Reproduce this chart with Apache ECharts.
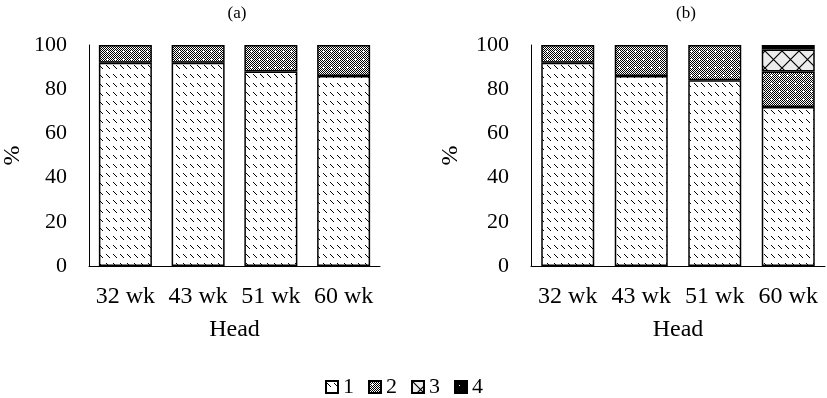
<!DOCTYPE html>
<html lang="en">
<head>
<meta charset="UTF-8">
<title>Head stacked bars</title>
<script src="https://cdn.jsdelivr.net/npm/echarts@6/dist/echarts.min.js"></script>
<style>
body{margin:0;padding:0;background:#fff;}
#main{width:827px;height:398px;}
</style>
</head>
<body>
<div id="main"></div>
<script type="text/javascript">
var categories = ['32 wk', '43 wk', '51 wk', '60 wk'];
var yTicks = [0, 20, 40, 60, 80, 100];
// panel (a)
var a1 = [92, 92, 88, 86];
var a2 = [8, 8, 12, 14];
// panel (b)
var b1 = [92, 86, 84, 72];
var b2 = [8, 14, 16, 16];
var b3 = [null, null, null, 10];
var b4 = [null, null, null, 2];

var FONT = '"Liberation Serif", "Times New Roman", serif';

function makeCanvas(w, h) {
    var c = document.createElement('canvas');
    c.width = w; c.height = h;
    return c;
}
// 1: short backslash dashes in rows
function pat1() {
    var c = makeCanvas(7, 9), g = c.getContext('2d');
    g.fillStyle = '#fff'; g.fillRect(0, 0, 7, 9);
    g.strokeStyle = '#000'; g.lineWidth = 1;
    g.beginPath(); g.moveTo(1, 2); g.lineTo(5, 6); g.stroke();
    return c;
}
// 2: dense dark dots with light crosses
function pat2() {
    var c = makeCanvas(8, 8), g = c.getContext('2d');
    g.fillStyle = '#fff'; g.fillRect(0, 0, 8, 8);
    g.fillStyle = '#000';
    for (var y = 0; y < 8; y++) {
        for (var x = 0; x < 8; x++) {
            if ((x + y) % 2 === 0) g.fillRect(x, y, 1, 1);
        }
    }
    g.fillStyle = '#fff';
    g.fillRect(3, 2, 1, 3); g.fillRect(2, 3, 3, 1);
    return c;
}
// 3: diamond cross-hatch on light grey
function pat3() {
    var c = makeCanvas(17, 17), g = c.getContext('2d');
    g.fillStyle = '#ececec'; g.fillRect(0, 0, 17, 17);
    g.strokeStyle = '#000'; g.lineWidth = 1.2;
    g.beginPath();
    g.moveTo(0, 0); g.lineTo(17, 17);
    g.moveTo(17, 0); g.lineTo(0, 17);
    g.stroke();
    return c;
}
// 4: black with sparse white dots
function pat4() {
    var c = makeCanvas(9, 9), g = c.getContext('2d');
    g.fillStyle = '#000'; g.fillRect(0, 0, 9, 9);
    g.fillStyle = '#fff'; g.fillRect(4, 4, 1, 1);
    return c;
}
var fills = [pat1(), pat2(), pat3(), pat4()].map(function (c) {
    return {image: c, repeat: 'repeat'};
});

function barSeries(name, data, idx, fill) {
    return {
        name: name,
        type: 'bar',
        stack: 'p' + idx,
        xAxisIndex: idx,
        yAxisIndex: idx,
        barWidth: 53,
        data: data,
        itemStyle: {color: fill, borderColor: '#000', borderWidth: 1.5},
        emphasis: {disabled: true}
    };
}

function xAx(idx) {
    return {
        gridIndex: idx,
        type: 'category',
        data: categories,
        name: 'Head',
        nameLocation: 'middle',
        nameGap: 52,
        nameTextStyle: {fontFamily: FONT, fontSize: 24, color: '#000'},
        axisLine: {lineStyle: {color: '#000', width: 1}},
        axisTick: {show: false},
        axisLabel: {interval: 0, fontFamily: FONT, fontSize: 24, color: '#000', margin: 19}
    };
}
function yAx(idx, gap) {
    return {
        gridIndex: idx,
        type: 'value',
        min: yTicks[0],
        max: yTicks[yTicks.length - 1],
        interval: 20,
        name: '%',
        nameLocation: 'middle',
        nameRotate: 90,
        nameGap: gap,
        nameTextStyle: {fontFamily: FONT, fontSize: 24, color: '#000'},
        axisLine: {show: true, lineStyle: {color: '#000', width: 1}},
        axisTick: {show: false},
        splitLine: {show: false},
        axisLabel: {fontFamily: FONT, fontSize: 22, color: '#000', margin: 22}
    };
}

var myChart = echarts.init(document.getElementById('main'));
var option = {
    animation: false,
    title: [
        {text: '(a)', left: 232, top: 0, textAlign: 'center',
         textStyle: {fontFamily: FONT, fontSize: 17, fontWeight: 'normal', color: '#000'}},
        {text: '(b)', left: 681, top: 0, textAlign: 'center',
         textStyle: {fontFamily: FONT, fontSize: 17, fontWeight: 'normal', color: '#000'}}
    ],
    legend: {
        data: ['1', '2', '3', '4'],
        icon: 'rect',
        left: 320,
        top: 371,
        itemWidth: 12,
        itemHeight: 12,
        itemGap: 14,
        textStyle: {fontFamily: FONT, fontSize: 22, color: '#000'}
    },
    grid: [
        {left: 87, right: 447, top: 45, bottom: 132},
        {left: 531, right: 2, top: 45, bottom: 132}
    ],
    xAxis: [xAx(0), xAx(1)],
    yAxis: [yAx(0, 64), yAx(1, 68)],
    series: [
        barSeries('1', a1, 0, fills[0]),
        barSeries('2', a2, 0, fills[1]),
        barSeries('1', b1, 1, fills[0]),
        barSeries('2', b2, 1, fills[1]),
        barSeries('3', b3, 1, fills[2]),
        barSeries('4', b4, 1, fills[3])
    ]
};
myChart.setOption(option);
</script>
</body>
</html>
